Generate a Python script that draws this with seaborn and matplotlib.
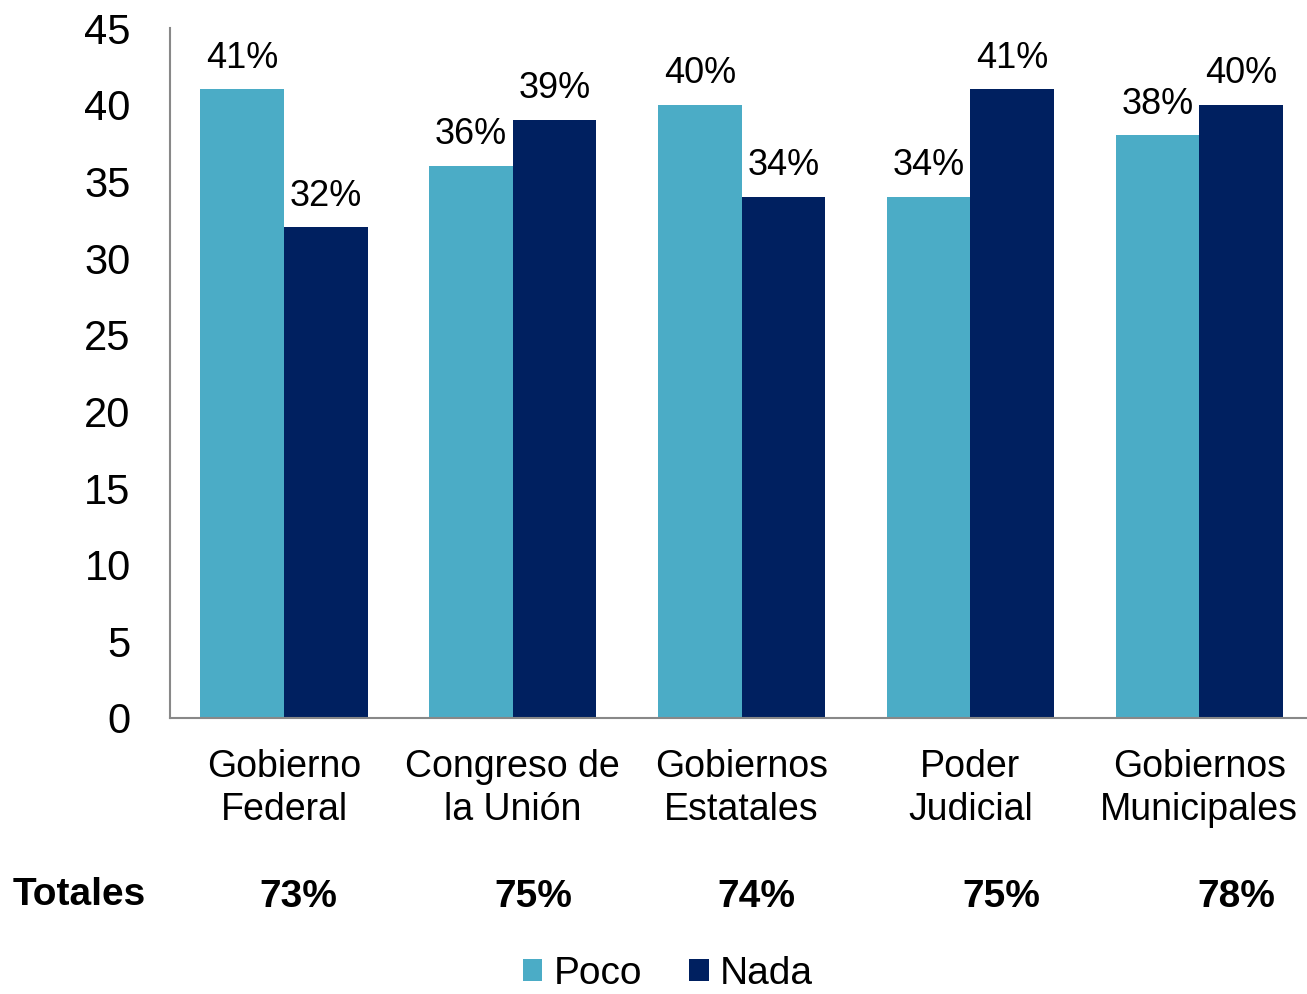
import pandas as pd
import matplotlib
matplotlib.use("Agg")
import matplotlib.pyplot as plt
import seaborn as sns

categorias = ["Gobierno\nFederal", "Congreso de\nla Unión", "Gobiernos\nEstatales",
              "Poder\nJudicial", "Gobiernos\nMunicipales"]
poco = [41, 36, 40, 34, 38]
nada = [32, 39, 34, 41, 40]
totales = ["73%", "75%", "74%", "75%", "78%"]
# horizontal placement of the totals row (data units along x)
totales_x = [0.061, 1.089, 2.064, 3.135, 4.163]

df = pd.DataFrame({
    "categoria": categorias * 2,
    "serie": ["Poco"] * 5 + ["Nada"] * 5,
    "valor": poco + nada,
})

sns.set_style("white")
plt.rcParams["font.family"] = ["Liberation Sans", "DejaVu Sans"]
plt.rcParams["text.color"] = "black"
plt.rcParams["xtick.color"] = "black"
plt.rcParams["ytick.color"] = "black"

fig = plt.figure(figsize=(13.07, 9.94), dpi=100)
ax = fig.add_axes([169.6 / 1307, 0.2777, 1144 / 1307, 0.694])

sns.barplot(data=df, x="categoria", y="valor", hue="serie", hue_order=["Poco", "Nada"],
            palette=["#4BACC6", "#002060"], width=0.73, gap=0, saturation=1,
            linewidth=0, legend=True, ax=ax)

for cont in ax.containers:
    ax.bar_label(cont, labels=[f"{int(v)}%" for v in cont.datavalues],
                 padding=10, fontsize=26)

ax.set_ylim(0, 45)
ax.set_xlim(-0.5, 4.5)
ax.set_yticks(range(0, 46, 5))
ax.tick_params(axis="y", labelsize=30, length=0, pad=28)
ax.tick_params(axis="x", labelsize=27, length=0, pad=22)
for lab in ax.get_xticklabels():
    lab.set_linespacing(1.25)
ax.set_xlabel("")
ax.set_ylabel("")
for s in ["top", "right"]:
    ax.spines[s].set_visible(False)
for s in ["left", "bottom"]:
    ax.spines[s].set_color("#888888")
    ax.spines[s].set_linewidth(1.5)

fig.text(13 / 1307, 1 - 895 / 994, "Totales", fontsize=28, fontweight="bold",
         ha="left", va="center")
for xp, t in zip(totales_x, totales):
    ax.text(xp, -0.26, t, transform=ax.get_xaxis_transform(), fontsize=28,
            fontweight="bold", ha="center", va="center")

ax.legend(loc="center", bbox_to_anchor=(668 / 1307, 1 - 974 / 994),
          bbox_transform=fig.transFigure, ncol=2, frameon=False, fontsize=28,
          handlelength=0.5, handleheight=0.5, handletextpad=0.3, columnspacing=1.2,
          borderaxespad=0)

fig.savefig("out.png", dpi=100)
